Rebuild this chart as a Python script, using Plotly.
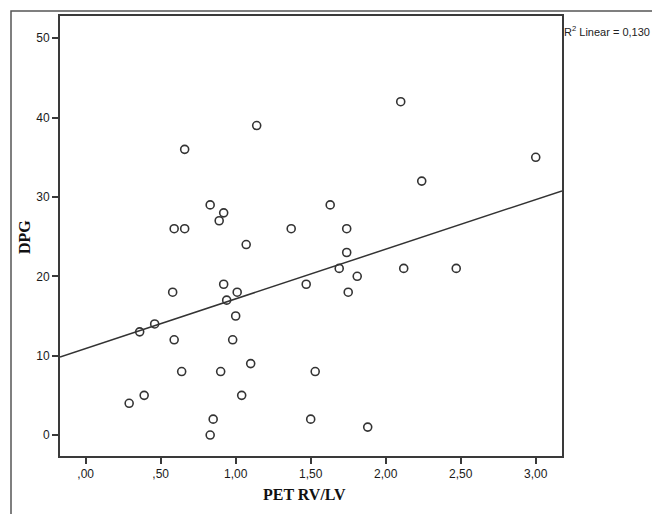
import numpy as np
import plotly.graph_objects as go

# Data
pet_rv_lv = [0.29, 0.39, 0.36, 0.46, 0.58, 0.59, 0.66, 0.66, 0.59, 0.64,
             0.83, 0.85, 0.83, 0.89, 0.92, 0.92, 0.90, 0.94, 1.00, 1.01,
             0.98, 1.04, 1.07, 1.10, 1.14, 1.37, 1.47, 1.50, 1.53, 1.63,
             1.69, 1.74, 1.74, 1.75, 1.81, 1.88, 2.10, 2.12, 2.24, 2.47,
             3.00]
dpg = [4, 5, 13, 14, 18, 26, 26, 36, 12, 8,
       0, 2, 29, 27, 28, 19, 8, 17, 15, 18,
       12, 5, 24, 9, 39, 26, 19, 2, 8, 29,
       21, 26, 23, 18, 20, 1, 42, 21, 32, 21,
       35]

x_tick_vals = [0, 0.5, 1.0, 1.5, 2.0, 2.5, 3.0]
x_tick_text = [",00", ",50", "1,00", "1,50", "2,00", "2,50", "3,00"]
y_tick_vals = [0, 10, 20, 30, 40, 50]
y_tick_text = ["0", "10", "20", "30", "40", "50"]
x_range = [-0.171, 3.175]
y_range = [-2.64, 52.8]
r2_label = "R<sup>2</sup> Linear = 0,130"
x_title = "PET RV/LV"
y_title = "DPG"

slope, intercept = np.polyfit(pet_rv_lv, dpg, 1)
fit_x = np.array(x_range)
fit_y = intercept + slope * fit_x

ink = "#333333"
fig = go.Figure()
fig.add_trace(go.Scatter(
    x=fit_x, y=fit_y, mode="lines",
    line=dict(color=ink, width=1.5), showlegend=False, hoverinfo="skip"))
fig.add_trace(go.Scatter(
    x=pet_rv_lv, y=dpg, mode="markers",
    marker=dict(symbol="circle-open", size=8, color=ink, line=dict(width=1.6, color=ink)),
    showlegend=False))

axis_common = dict(showline=True, mirror=True, linecolor="#3a3a3a", linewidth=1.8,
                   ticks="outside", ticklen=6, tickwidth=1.5, tickcolor="#3a3a3a",
                   showgrid=False, zeroline=False,
                   tickfont=dict(family="Liberation Sans, Arial, sans-serif", size=12, color="#1a1a1a"))

fig.update_xaxes(range=x_range, tickvals=x_tick_vals, ticktext=x_tick_text, **axis_common)
fig.update_yaxes(range=y_range, tickvals=y_tick_vals, ticktext=y_tick_text, **axis_common)

# plot area: 502 x 442 px
PW, PH = 502, 442
L, T = 52, 6
fig.update_layout(
    width=652, height=506,
    margin=dict(l=L, r=652 - L - PW, t=T, b=506 - T - PH),
    paper_bgcolor="white", plot_bgcolor="white",
    annotations=[
        dict(text=r2_label, xref="paper", yref="paper", x=1.0, y=(442 - 15) / PH,
             xanchor="left", yanchor="middle", showarrow=False,
             font=dict(family="Liberation Sans, Arial, sans-serif", size=11, color="#222222")),
        dict(text="<b>" + x_title + "</b>", xref="paper", yref="paper",
             x=(244) / PW, y=(-39) / PH,
             xanchor="center", yanchor="middle", showarrow=False,
             font=dict(family="Liberation Serif, Times New Roman, serif", size=16, color="#111111")),
        dict(text="<b>" + y_title + "</b>", xref="paper", yref="paper",
             x=(-35) / PW, y=(220) / PH, textangle=-90,
             xanchor="center", yanchor="middle", showarrow=False,
             font=dict(family="Liberation Serif, Times New Roman, serif", size=16, color="#111111")),
    ],
    shapes=[
        dict(type="rect", xref="paper", yref="paper",
             x0=(-49) / PW, x1=(596) / PW,
             y0=(-70) / PH, y1=(447) / PH,
             line=dict(color="#555555", width=1.5), fillcolor="rgba(0,0,0,0)", layer="below"),
    ],
)

fig.write_html("out.html")
